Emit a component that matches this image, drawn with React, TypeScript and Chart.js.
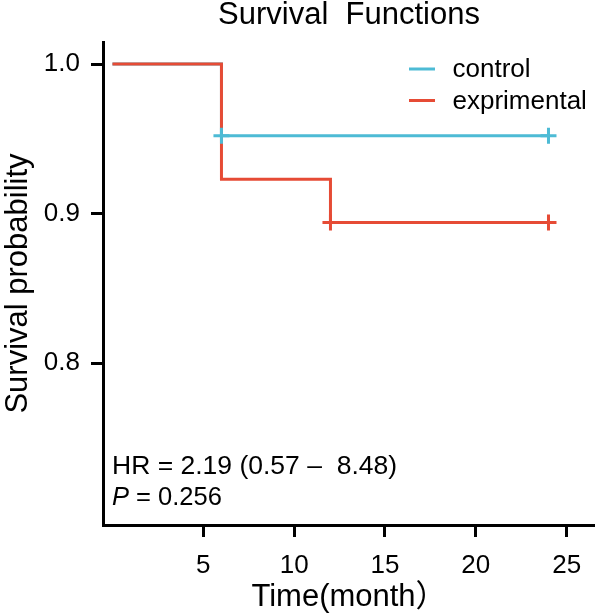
import React, { useEffect, useRef } from 'react';
import { Chart, registerables } from 'chart.js';

Chart.register(...registerables);

// ---- data ----
const seriesNames = ['control', 'exprimental'];
const seriesColors = ['#4DBBD5', '#E64B35'];
const controlTimes = [0, 6, 24];
const controlSurv = [1.0, 0.952, 0.952];
const expTimes = [0, 6, 12, 24];
const expSurv = [1.0, 0.923, 0.894, 0.894];
const controlCensorTimes = [6, 24];
const controlCensorSurv = [0.952, 0.952];
const expCensorTimes = [12, 24];
const expCensorSurv = [0.894, 0.894];
const xTicks = [5, 10, 15, 20, 25];
const yTicks = [0.8, 0.9, 1.0];
const chartTitle = 'Survival  Functions';
const xTitle = 'Time(month）';
const yTitle = 'Survival probability';
const hrText = 'HR = 2.19 (0.57 –  8.48)';
const pLabel = 'P';
const pValueText = ' = 0.256';

const FONT = "'Liberation Sans', Arial, 'Noto Sans CJK SC', sans-serif";

const zip = (xs: number[], ys: number[]) => xs.map((x, i) => ({ x, y: ys[i] }));

const overlayPlugin = {
  id: 'overlay',
  afterDraw(chart: any) {
    const ctx = chart.ctx;
    ctx.save();
    // legend
    ctx.font = `26px ${FONT}`;
    ctx.textBaseline = 'middle';
    ctx.textAlign = 'left';
    const legendY = [69, 100.5];
    seriesNames.forEach((name, i) => {
      ctx.strokeStyle = seriesColors[i];
      ctx.lineWidth = 3;
      ctx.beginPath();
      ctx.moveTo(409, legendY[i]);
      ctx.lineTo(435, legendY[i]);
      ctx.stroke();
      ctx.fillStyle = '#000';
      ctx.fillText(name, 452.5, legendY[i] + 1);
    });
    // annotation
    const left = chart.chartArea.left + 9;
    ctx.textBaseline = 'alphabetic';
    ctx.font = `26.5px ${FONT}`;
    ctx.fillText(hrText, left, 474);
    ctx.font = `italic 25.5px ${FONT}`;
    ctx.fillText(pLabel, left, 505);
    const pw = ctx.measureText(pLabel).width;
    ctx.font = `25.5px ${FONT}`;
    ctx.fillText(pValueText, left + pw, 505);
    ctx.restore();
  },
};

export default function App() {
  const ref = useRef<HTMLCanvasElement | null>(null);
  useEffect(() => {
    if (!ref.current) return;
    const chart = new Chart(ref.current, {
      type: 'line',
      data: {
        datasets: [
          {
            label: seriesNames[0],
            data: zip(controlTimes, controlSurv),
            borderColor: seriesColors[0],
            borderWidth: 3,
            pointRadius: 0,
            stepped: 'before',
            fill: false,
            order: 4,
          },
          {
            label: seriesNames[1],
            data: zip(expTimes, expSurv),
            borderColor: seriesColors[1],
            borderWidth: 3,
            pointRadius: 0,
            stepped: 'before',
            fill: false,
            order: 3,
          },
          {
            label: seriesNames[0] + ' censored',
            data: zip(controlCensorTimes, controlCensorSurv),
            showLine: false,
            pointStyle: 'cross',
            pointRadius: 8,
            pointBorderWidth: 3,
            borderColor: seriesColors[0],
            pointBorderColor: seriesColors[0],
            order: 2,
          },
          {
            label: seriesNames[1] + ' censored',
            data: zip(expCensorTimes, expCensorSurv),
            showLine: false,
            pointStyle: 'cross',
            pointRadius: 8,
            pointBorderWidth: 3,
            borderColor: seriesColors[1],
            pointBorderColor: seriesColors[1],
            order: 1,
          },
        ] as any,
      },
      options: {
        responsive: false,
        animation: false,
        devicePixelRatio: 1,
        layout: { padding: 0, autoPadding: false },
        plugins: {
          legend: { display: false },
          tooltip: { enabled: false },
          title: {
            display: true,
            text: chartTitle,
            fullSize: false,
            color: '#000',
            font: { family: FONT, size: 31, weight: 'normal', lineHeight: 1 },
            padding: { top: 0, bottom: 11 },
          },
        },
        scales: {
          x: {
            type: 'linear',
            min: -0.52,
            max: 26.56,
            afterBuildTicks: (s: any) => {
              s.ticks = xTicks.map((v) => ({ value: v }));
            },
            afterFit: (s: any) => {
              s.height = 91;
              s.paddingLeft = 0;
              s.paddingRight = 0;
            },
            ticks: {
              color: '#000',
              font: { family: FONT, size: 26 },
              padding: 13,
              maxRotation: 0,
              autoSkip: false,
            },
            grid: {
              drawOnChartArea: false,
              drawTicks: true,
              tickLength: 12,
              tickWidth: 3,
              tickColor: '#000',
            },
            border: { display: true, color: '#000', width: 3 },
            title: {
              display: true,
              text: xTitle,
              color: '#000',
              font: { family: FONT, size: 31, lineHeight: 1.2 },
              padding: { top: 0, bottom: 0 },
            },
          },
          y: {
            type: 'linear',
            min: 0.6916,
            max: 1.0148,
            afterBuildTicks: (s: any) => {
              s.ticks = yTicks.map((v) => ({ value: v }));
            },
            afterFit: (s: any) => {
              s.width = 103;
              s.paddingTop = 0;
              s.paddingBottom = 0;
            },
            ticks: {
              color: '#000',
              font: { family: FONT, size: 26 },
              padding: 11,
              autoSkip: false,
              callback: (v: any) => Number(v).toFixed(1),
            },
            grid: {
              drawOnChartArea: false,
              drawTicks: true,
              tickLength: 12,
              tickWidth: 3,
              tickColor: '#000',
            },
            border: { display: true, color: '#000', width: 3 },
            title: {
              display: true,
              text: yTitle,
              color: '#000',
              font: { family: FONT, size: 31, lineHeight: 1.2 },
              padding: { top: 0, bottom: 0 },
            },
          },
        },
      } as any,
      plugins: [overlayPlugin],
    });
    return () => chart.destroy();
  }, []);
  return (
    <div style={{ position: 'absolute', left: 0, top: 0, width: 595, height: 616, background: '#fff' }}>
      <canvas ref={ref} width={595} height={616} />
    </div>
  );
}
